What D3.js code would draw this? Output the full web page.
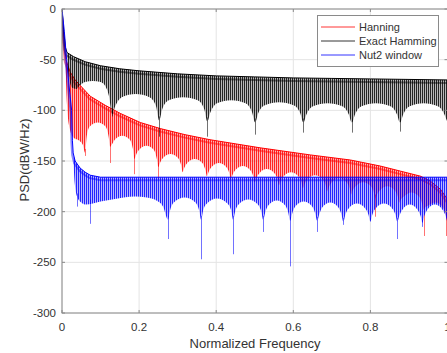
<!DOCTYPE html>
<html>
<head>
<meta charset="utf-8">
<script src="https://cdn.jsdelivr.net/npm/d3@7"></script>
<style>
  body { margin: 0; background: #fff; }
  svg { display: block; }
  text { font-family: "Liberation Sans", Arial, sans-serif; fill: #333; }
</style>
</head>
<body>
<div id="chart"></div>
<script>
// tick labels
const freqTicks = [0, 0.2, 0.4, 0.6, 0.8, 1];
const psdTicks = [-300, -250, -200, -150, -100, -50, 0];
const seriesNames = ["Hanning", "Exact Hamming", "Nut2 window"];
const seriesColors = ["#ff0000", "#000000", "#0000ff"];

// upper envelope of each spectrum [freq, dB]
const hanningTop = [[0, 0], [0.005, -30], [0.010, -50], [0.021, -62], [0.034, -70], [0.073, -86], [0.112, -95],
  [0.151, -103], [0.203, -112], [0.255, -118], [0.319, -124], [0.384, -129], [0.514, -137], [0.644, -144],
  [0.748, -149], [0.826, -155], [0.878, -160], [0.930, -165], [0.956, -170], [0.982, -178], [1.0, -188]];
const hammingTop = [[0, 0], [0.004, -20], [0.009, -38], [0.013, -43], [0.03, -47], [0.06, -52], [0.1, -56],
  [0.15, -59], [0.2, -61], [0.3, -64], [0.4, -66], [0.5, -67], [0.6, -68], [0.7, -68.5], [0.8, -69],
  [0.9, -69.5], [1.0, -70]];
const nut2Top = [[0, 0], [0.006, -22], [0.012, -50], [0.02, -82], [0.025, -100], [0.027, -130], [0.029, -142],
  [0.034, -150], [0.047, -157], [0.06, -161], [0.073, -164], [0.1, -166], [0.5, -166], [1.0, -166]];

// lower edge of the sidelobe band (scalloped) [freq, dB]
const hanningLow = [[0.008, -40], [0.013, -95], [0.02, -118], [0.03, -127], [0.045, -130], [0.054, -134], [0.06, -142],
  [0.064, -126], [0.072, -116], [0.0925, -112], [0.113, -116], [0.121, -126], [0.125, -136],
  [0.129, -134], [0.137, -129], [0.156, -125], [0.176, -129], [0.184, -138], [0.188, -148],
  [0.192, -144], [0.2, -139], [0.219, -135], [0.238, -139], [0.246, -148], [0.25, -156],
  [0.254, -152], [0.262, -147], [0.281, -143], [0.301, -147], [0.309, -154], [0.313, -161],
  [0.317, -157], [0.325, -152], [0.344, -148], [0.364, -152], [0.372, -159], [0.376, -165],
  [0.38, -161], [0.388, -156], [0.407, -152], [0.426, -156], [0.434, -162], [0.438, -168],
  [0.442, -164], [0.45, -159], [0.469, -155], [0.488, -159], [0.496, -165], [0.5, -171],
  [0.504, -167], [0.512, -162], [0.531, -158], [0.551, -162], [0.559, -168], [0.563, -174],
  [0.567, -170], [0.575, -165], [0.594, -161], [0.613, -165], [0.621, -171], [0.625, -177],
  [0.629, -173], [0.637, -168], [0.656, -164], [0.676, -168], [0.684, -174], [0.688, -180],
  [0.692, -176], [0.7, -171], [0.719, -167], [0.738, -171], [0.746, -177], [0.75, -183],
  [0.754, -179], [0.762, -175], [0.781, -171], [0.801, -175], [0.809, -181], [0.813, -187],
  [0.817, -183], [0.825, -179], [0.844, -175], [0.863, -179], [0.871, -185], [0.875, -191],
  [0.879, -188], [0.887, -185], [0.906, -181], [0.926, -185], [0.934, -192], [0.938, -198],
  [0.942, -196], [0.95, -194], [0.969, -191], [0.988, -196], [0.996, -204], [1.0, -212]];
const hammingLow = [[0.013, -45], [0.018, -68], [0.028, -78], [0.038, -79], [0.045, -76], [0.06, -72], [0.08, -71],
  [0.1, -72], [0.112, -76], [0.122, -86], [0.13, -104],
  [0.138, -96], [0.155, -87], [0.191, -84], [0.227, -87], [0.244, -96], [0.252, -110],
  [0.26, -99], [0.277, -90], [0.314, -87], [0.352, -90], [0.369, -99], [0.377, -111],
  [0.385, -102], [0.402, -93], [0.439, -90], [0.476, -93], [0.493, -102], [0.501, -112],
  [0.509, -103], [0.526, -95], [0.563, -92], [0.601, -95], [0.618, -103], [0.626, -112],
  [0.634, -104], [0.651, -96], [0.689, -93], [0.727, -96], [0.744, -104], [0.752, -112],
  [0.76, -104], [0.777, -96], [0.814, -93], [0.852, -96], [0.869, -104], [0.877, -112],
  [0.885, -104], [0.902, -96], [0.938, -93], [0.975, -96], [0.992, -104], [1.0, -112]];
const nut2Low = [[0.029, -142], [0.033, -172], [0.04, -186], [0.05, -191], [0.062, -193], [0.08, -192], [0.1, -190],
  [0.13, -188], [0.16, -186], [0.19, -185], [0.22, -186], [0.245, -189], [0.262, -195], [0.275, -208],
  [0.28, -199], [0.29, -191], [0.318, -186], [0.346, -191], [0.356, -199], [0.361, -208],
  [0.366, -199], [0.376, -192], [0.402, -187], [0.429, -192], [0.439, -199], [0.444, -208],
  [0.449, -200], [0.458, -193], [0.483, -188], [0.508, -193], [0.517, -200], [0.522, -208],
  [0.527, -201], [0.535, -194], [0.557, -189], [0.579, -194], [0.587, -201], [0.592, -209],
  [0.597, -202], [0.605, -195], [0.627, -190], [0.649, -195], [0.657, -202], [0.662, -209],
  [0.667, -203], [0.675, -196], [0.696, -191], [0.717, -196], [0.725, -203], [0.730, -210],
  [0.735, -203], [0.743, -197], [0.765, -192], [0.787, -197], [0.795, -203], [0.8, -210],
  [0.805, -203], [0.813, -197], [0.835, -192], [0.857, -197], [0.865, -203], [0.87, -210],
  [0.875, -204], [0.883, -198], [0.902, -193], [0.922, -198], [0.93, -204], [0.935, -211],
  [0.94, -204], [0.948, -198], [0.967, -193], [0.987, -198], [0.995, -204], [1.0, -211]];

// deep single nulls [freq, dB]
const hanningNulls = [[0.06, -145], [0.125, -152], [0.188, -163], [0.25, -168], [0.813, -205], [0.94, -224], [0.995, -224]];
const hammingNulls = [[0.13, -106], [0.252, -126], [0.377, -126], [0.501, -124], [0.626, -122], [0.752, -122], [0.877, -121], [1.0, -120]];
const nut2Nulls = [[0.04, -195], [0.073, -212], [0.275, -227], [0.361, -247], [0.444, -242], [0.522, -220], [0.592, -254],
  [0.662, -220], [0.730, -213], [0.800, -208], [0.870, -227], [0.935, -215]];

const width = 447, height = 353;
const plotLeft = 62, plotRight = 447.5, plotTop = 9, plotBottom = 313;

const svg = d3.select("#chart").append("svg")
  .attr("width", width)
  .attr("height", height);
const defs = svg.append("defs");

const x = d3.scaleLinear().domain([0, 1]).range([plotLeft, plotRight]);
const y = d3.scaleLinear().domain([-300, 0]).range([plotBottom, plotTop]);

// grid
svg.append("g").selectAll("line").data(freqTicks).enter().append("line")
  .attr("x1", d => x(d)).attr("x2", d => x(d)).attr("y1", plotTop).attr("y2", plotBottom)
  .attr("stroke", "#e4e4e4").attr("stroke-width", 1);
svg.append("g").selectAll("line").data(psdTicks).enter().append("line")
  .attr("x1", plotLeft).attr("x2", plotRight).attr("y1", d => y(d)).attr("y2", d => y(d))
  .attr("stroke", "#e4e4e4").attr("stroke-width", 1);

defs.append("clipPath").attr("id", "plot-clip").append("rect")
  .attr("x", plotLeft).attr("y", plotTop).attr("width", plotRight - plotLeft).attr("height", plotBottom - plotTop);

const series = [
  { top: hanningTop, low: hanningLow, nulls: hanningNulls },
  { top: hammingTop, low: hammingLow, nulls: hammingNulls },
  { top: nut2Top, low: nut2Low, nulls: nut2Nulls }
];

const plot = svg.append("g").attr("clip-path", "url(#plot-clip)");

series.forEach((s, i) => {
  const color = seriesColors[i];

  // vertical stripes mimic the dense sidelobe lines
  const pat = defs.append("pattern").attr("id", "stripe-" + i)
    .attr("patternUnits", "userSpaceOnUse").attr("width", 2).attr("height", 4);
  pat.append("rect").attr("width", 2).attr("height", 4).attr("fill", color).attr("opacity", 0.28);
  pat.append("rect").attr("width", 1).attr("height", 4).attr("fill", color).attr("opacity", 0.8);

  // region under the envelope
  defs.append("clipPath").attr("id", "env-" + i).append("path")
    .attr("d", d3.area().x(d => x(d[0])).y0(plotBottom).y1(d => y(d[1]))(s.top));

  const g = plot.append("g");

  // null spikes
  g.selectAll("line").data(s.nulls).enter().append("line")
    .attr("x1", d => Math.round(x(d[0])) + 0.5).attr("x2", d => Math.round(x(d[0])) + 0.5)
    .attr("y1", d => y(d3.least(s.low, p => Math.abs(p[0] - d[0]))[1]) - 4)
    .attr("y2", d => y(d[1]))
    .attr("stroke", color).attr("stroke-width", 1).attr("opacity", 0.55);

  // band between lower scallops and envelope
  g.append("path")
    .attr("d", d3.area().x(d => x(d[0])).y0(d => y(d[1])).y1(plotTop).curve(d3.curveMonotoneX)(s.low))
    .attr("fill", "url(#stripe-" + i + ")")
    .attr("clip-path", "url(#env-" + i + ")");

  // dense part just under the envelope
  g.append("path")
    .attr("d", d3.line().x(d => x(d[0])).y(d => y(d[1]))(s.top))
    .attr("transform", "translate(0,2)")
    .attr("clip-path", "url(#env-" + i + ")")
    .attr("fill", "none").attr("stroke", color).attr("stroke-width", 4).attr("opacity", 0.45);

  // envelope
  g.append("path")
    .attr("d", d3.line().x(d => x(d[0])).y(d => y(d[1]))(s.top))
    .attr("fill", "none").attr("stroke", color).attr("stroke-width", 1);
});

// axes box and inward ticks
svg.append("rect").attr("x", plotLeft).attr("y", plotTop).attr("width", plotRight - plotLeft).attr("height", plotBottom - plotTop)
  .attr("fill", "none").attr("stroke", "#8a8a8a").attr("stroke-width", 1);
const tick = svg.append("g").attr("stroke", "#8a8a8a").attr("stroke-width", 1);
freqTicks.forEach(d => {
  tick.append("line").attr("x1", x(d)).attr("x2", x(d)).attr("y1", plotBottom).attr("y2", plotBottom - 3);
  tick.append("line").attr("x1", x(d)).attr("x2", x(d)).attr("y1", plotTop).attr("y2", plotTop + 3);
});
psdTicks.forEach(d => {
  tick.append("line").attr("x1", plotLeft).attr("x2", plotLeft + 3).attr("y1", y(d)).attr("y2", y(d));
  tick.append("line").attr("x1", plotRight).attr("x2", plotRight - 3).attr("y1", y(d)).attr("y2", y(d));
});

svg.append("g").selectAll("text").data(freqTicks).enter().append("text")
  .attr("x", d => x(d)).attr("y", 331)
  .attr("text-anchor", "middle").attr("font-size", "11.5px")
  .text(d => d3.format("~g")(d));
svg.append("g").selectAll("text").data(psdTicks).enter().append("text")
  .attr("x", 56).attr("y", d => y(d) + 4)
  .attr("text-anchor", "end").attr("font-size", "11.5px")
  .text(d => d);

svg.append("text").attr("x", 255).attr("y", 348).attr("text-anchor", "middle")
  .attr("font-size", "13px").text("Normalized Frequency");
svg.append("text").attr("transform", "translate(29,160) rotate(-90)").attr("text-anchor", "middle")
  .attr("font-size", "13px").text("PSD(dBW/Hz)");

// legend
const legend = svg.append("g");
legend.append("rect").attr("x", 317.5).attr("y", 15.5).attr("width", 121).attr("height", 51)
  .attr("fill", "#fff").attr("stroke", "#8a8a8a").attr("stroke-width", 1);
seriesNames.forEach((name, i) => {
  const ly = 27 + i * 14;
  legend.append("line").attr("x1", 321).attr("x2", 355).attr("y1", ly).attr("y2", ly)
    .attr("stroke", seriesColors[i]).attr("stroke-width", 0.8);
  legend.append("text").attr("x", 359).attr("y", ly + 4).attr("font-size", "11px").text(name);
});
</script>
</body>
</html>
